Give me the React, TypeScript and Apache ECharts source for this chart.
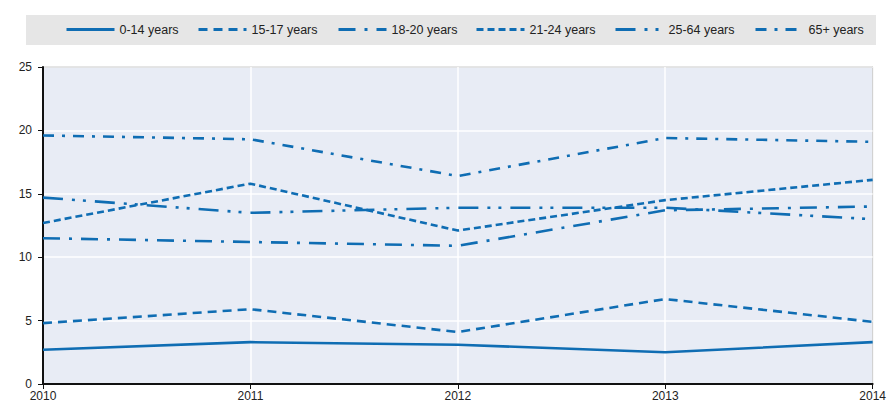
import React, { useEffect, useRef } from "react";
import * as echarts from "echarts";

const years = ["2010", "2011", "2012", "2013", "2014"];
const seriesNames = ["0-14 years", "15-17 years", "18-20 years", "21-24 years", "25-64 years", "65+ years"];
const age0_14 = [2.7, 3.3, 3.1, 2.5, 3.3];
const age15_17 = [4.8, 5.9, 4.1, 6.7, 4.9];
const age18_20 = [11.5, 11.2, 10.9, 13.7, 14.0];
const age21_24 = [12.7, 15.8, 12.1, 14.5, 16.1];
const age25_64 = [14.7, 13.5, 13.9, 13.9, 13.0];
const age65 = [19.6, 19.3, 16.4, 19.4, 19.1];
const yTicks = [0, 5, 10, 15, 20, 25];

const values = [age0_14, age15_17, age18_20, age21_24, age25_64, age65];
const dashes: (string | number[])[] = [
  "solid",
  [9, 6],
  [17, 9, 3, 9],
  [7, 4],
  [20, 9, 3, 8, 3, 9],
  [11, 8, 3, 8],
];
const legendLeft = [65, 197, 337, 475, 614, 754];

const BLUE = "#0f6db3";
const FONT = "'Liberation Sans Narrow', 'Arial Narrow', 'Liberation Sans', sans-serif";

export default function App() {
  const ref = useRef<HTMLDivElement>(null);
  useEffect(() => {
    document.body.style.margin = "0";
    if (!ref.current) return;
    const chart = echarts.init(ref.current, null, { renderer: "svg" });
    chart.setOption({
      animation: false,
      graphic: [
        {
          type: "rect",
          left: 26,
          top: 15,
          shape: { width: 850, height: 30 },
          style: { fill: "#e6e6e6" },
          z: 0,
        },
      ],
      legend: seriesNames.map((n, i) => ({
        data: [n],
        left: legendLeft[i],
        top: 23,
        itemWidth: 48,
        itemHeight: 14,
        padding: 0,
        itemStyle: { opacity: 0 },
        lineStyle: { width: 3 },
        textStyle: { fontFamily: FONT, fontSize: 12.5, color: "#222" },
        z: 5,
      })),
      grid: {
        left: 43,
        right: 15,
        top: 67,
        bottom: 20,
        show: true,
        backgroundColor: "#e8ecf5",
        borderColor: "#333",
        borderWidth: 1,
      },
      xAxis: {
        type: "category",
        data: years,
        boundaryGap: false,
        axisLine: { lineStyle: { color: "#111", width: 2 } },
        axisTick: { show: true, length: 5, lineStyle: { color: "#111" } },
        axisLabel: { fontFamily: FONT, fontSize: 12, color: "#222", margin: 6 },
        splitLine: { show: true, lineStyle: { color: "#ffffff", width: 1.5 } },
      },
      yAxis: {
        type: "value",
        min: yTicks[0],
        max: yTicks[yTicks.length - 1],
        interval: 5,
        axisLine: { show: true, lineStyle: { color: "#111", width: 2 } },
        axisTick: { show: true, length: 5, lineStyle: { color: "#111" } },
        axisLabel: { fontFamily: FONT, fontSize: 12, color: "#222", margin: 11 },
        splitLine: { show: true, lineStyle: { color: "#ffffff", width: 1.5 } },
      },
      series: seriesNames.map((n, i) => ({
        name: n,
        type: "line",
        data: values[i],
        symbol: "none",
        color: BLUE,
        lineStyle: { color: BLUE, width: 2.6, type: dashes[i], cap: "butt" },
      })),
    });
    return () => chart.dispose();
  }, []);
  return <div ref={ref} style={{ width: 889, height: 404 }} />;
}
